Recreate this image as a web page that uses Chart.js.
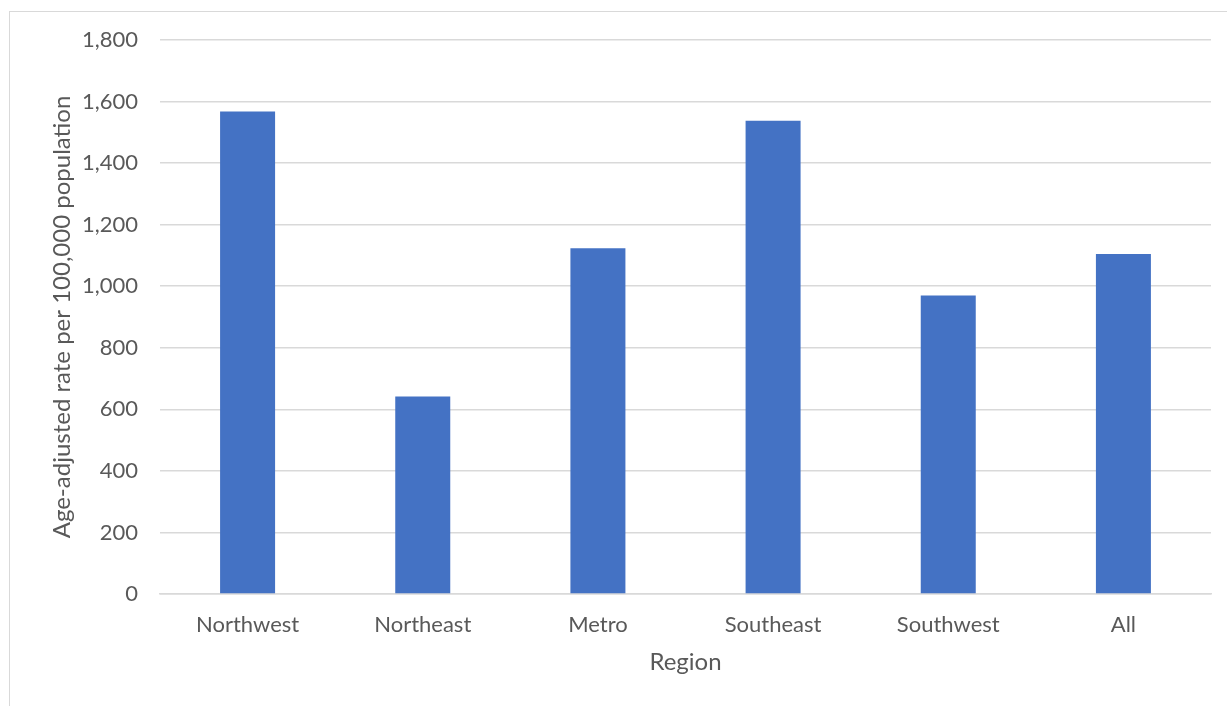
<!DOCTYPE html>
<html>
<head>
<meta charset="utf-8">
<script src="https://cdn.jsdelivr.net/npm/chart.js@4"></script>
<style>
  html, body { margin: 0; padding: 0; background: #fff; overflow: hidden; }
  #frame { position: absolute; left: 9px; top: 11px; width: 1240px; height: 720px; border: 1px solid #d9d9d9; }
  #wrap { position: absolute; left: 0; top: 0; width: 1227px; height: 706px; }
</style>
</head>
<body>
<div id="frame"></div>
<div id="wrap"><canvas id="rateBar"></canvas></div>
<script>
// Age-adjusted rate by region
const regions = ["Northwest", "Northeast", "Metro", "Southeast", "Southwest", "All"];
const rates = [1568, 642, 1123, 1538, 970, 1105];
const yTicks = [0, 200, 400, 600, 800, 1000, 1200, 1400, 1600, 1800];

const fontFamily = "Lato, 'Open Sans', sans-serif";
const textColor = "#595959";
const gridColor = "#d9d9d9";

const ctx = document.getElementById("rateBar");
new Chart(ctx, {
    type: "bar",
    data: {
        labels: regions,
        datasets: [{
            label: "Rate",
            data: rates,
            backgroundColor: "#4472c4",
            borderWidth: 0,
            barPercentage: 0.314,
            categoryPercentage: 1
        }]
    },
    options: {
        responsive: true,
        maintainAspectRatio: false,
        animation: false,
        layout: { padding: { left: 10, right: 16, top: 40, bottom: 29 } },
        plugins: {
            legend: { display: false },
            tooltip: { enabled: false }
        },
        scales: {
            x: {
                afterFit: (scale) => { scale.height = 83; },
                grid: { display: false, drawTicks: false },
                border: { color: gridColor, width: 1.5 },
                ticks: { color: textColor, font: { family: fontFamily, size: 22 }, padding: 18 },
                title: {
                    display: true, text: "Region", color: textColor,
                    font: { family: fontFamily, size: 24 }, padding: { top: 10, bottom: 0 }
                }
            },
            y: {
                min: 0,
                max: 1800,
                afterFit: (scale) => { scale.width = 150; },
                afterBuildTicks: (scale) => { scale.ticks = yTicks.map(v => ({ value: v })); },
                grid: { color: gridColor, lineWidth: 1.5, drawTicks: false },
                border: { display: false },
                ticks: {
                    color: textColor, font: { family: fontFamily, size: 22 }, padding: 22,
                    callback: (v) => v.toLocaleString("en-US")
                },
                title: {
                    display: true, text: "Age-adjusted rate per 100,000 population", color: textColor,
                    font: { family: fontFamily, size: 24 }, padding: { top: 38, bottom: 0 }
                }
            }
        }
    }
});
</script>
</body>
</html>
